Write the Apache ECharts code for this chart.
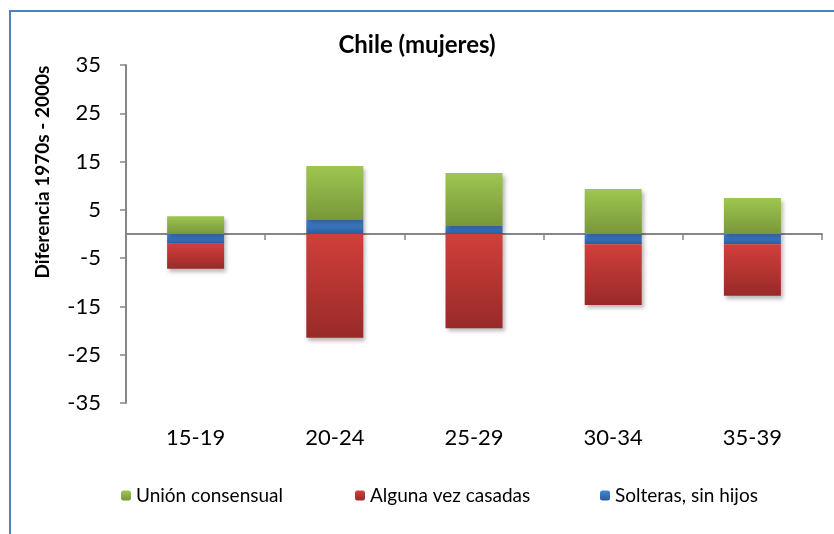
<!DOCTYPE html>
<html>
<head>
<meta charset="utf-8">
<script src="https://cdn.jsdelivr.net/npm/echarts@6/dist/echarts.min.js"></script>
<style>
  html, body { margin: 0; padding: 0; background: #fff; }
  #chart { width: 834px; height: 534px; }
</style>
</head>
<body>
<div id="chart"></div>
<script>
var categories = ['15-19', '20-24', '25-29', '30-34', '35-39'];
var unionConsensual = [3.7, 11.2, 11.0, 9.3, 7.45];
var algunaVezCasadas = [-5.2, -21.5, -19.5, -12.6, -10.7];
var solterasSinHijos = [-2.0, 2.9, 1.65, -2.1, -2.1];
var seriesNames = ['Unión consensual', 'Alguna vez casadas', 'Solteras, sin hijos'];

var FONT = 'Lato';

function grad(top, bottom) {
    return new echarts.graphic.LinearGradient(0, 0, 0, 1, [
        { offset: 0, color: top },
        { offset: 1, color: bottom }
    ]);
}

var barStyle = function (top, bottom) {
    return {
        color: grad(top, bottom),
        shadowColor: 'rgba(0,0,0,0.28)',
        shadowBlur: 4,
        shadowOffsetX: 2,
        shadowOffsetY: 3
    };
};

var legendText = { fontFamily: FONT, fontSize: 19, color: '#000' };

var myChart = echarts.init(document.getElementById('chart'));

var option = {
    animation: false,
    textStyle: { fontFamily: FONT },
    title: {
        text: 'Chile (mujeres)',
        left: 'center',
        top: 33,
        padding: [0, 0, 0, 22],
        textStyle: { fontFamily: FONT, fontSize: 24, fontWeight: 'bold', color: '#000' }
    },
    graphic: [
        {
            type: 'rect',
            shape: { x: 10, y: 11, width: 900, height: 600 },
            style: { fill: 'none', stroke: '#4F81BD', lineWidth: 2 },
            silent: true
        },
        {
            type: 'text',
            x: 43,
            y: 172,
            rotation: Math.PI / 2,
            style: {
                text: 'Diferencia 1970s - 2000s',
                fontFamily: FONT,
                fontSize: 19,
                fontWeight: 'bold',
                fill: '#000',
                align: 'center',
                verticalAlign: 'middle'
            }
        }
    ],
    legend: [
        { data: [seriesNames[0]], left: 116, top: 481, itemWidth: 10, itemHeight: 10, textStyle: legendText },
        { data: [seriesNames[1]], left: 350, top: 481, itemWidth: 10, itemHeight: 10, textStyle: legendText },
        { data: [seriesNames[2]], left: 595, top: 481, itemWidth: 10, itemHeight: 10, textStyle: legendText }
    ],
    grid: { left: 126, right: 12, top: 65, bottom: 131 },
    xAxis: [
        {
            type: 'category',
            data: categories,
            axisLine: { onZero: true, lineStyle: { color: '#868686', width: 2 } },
            axisTick: { show: true, length: 6, lineStyle: { color: '#868686', width: 1.5 } },
            axisLabel: { show: false }
        },
        {
            type: 'category',
            data: categories,
            position: 'bottom',
            axisLine: { show: false, onZero: false },
            axisTick: { show: false },
            axisLabel: { fontFamily: FONT, fontSize: 22, color: '#000', margin: 24 }
        }
    ],
    yAxis: {
        type: 'value',
        min: -35,
        max: 35,
        interval: 10,
        splitLine: { show: false },
        axisLine: { show: true, lineStyle: { color: '#868686', width: 2 } },
        axisTick: { show: true, length: 6, lineStyle: { color: '#868686', width: 1.5 } },
        axisLabel: { fontFamily: FONT, fontSize: 22, color: '#000', margin: 25 }
    },
    series: [
        {
            name: seriesNames[2],
            type: 'bar',
            stack: 'total',
            barWidth: 57,
            data: solterasSinHijos,
            itemStyle: barStyle('#4286d6', '#2b5e9c')
        },
        {
            name: seriesNames[1],
            type: 'bar',
            stack: 'total',
            barWidth: 57,
            data: algunaVezCasadas,
            itemStyle: barStyle('#d23f3b', '#982a28')
        },
        {
            name: seriesNames[0],
            type: 'bar',
            stack: 'total',
            barWidth: 57,
            data: unionConsensual,
            itemStyle: barStyle('#9ec650', '#78973a')
        }
    ]
};

myChart.setOption(option);
window.addEventListener('resize', function () {
    myChart.resize();
});
</script>
</body>
</html>
